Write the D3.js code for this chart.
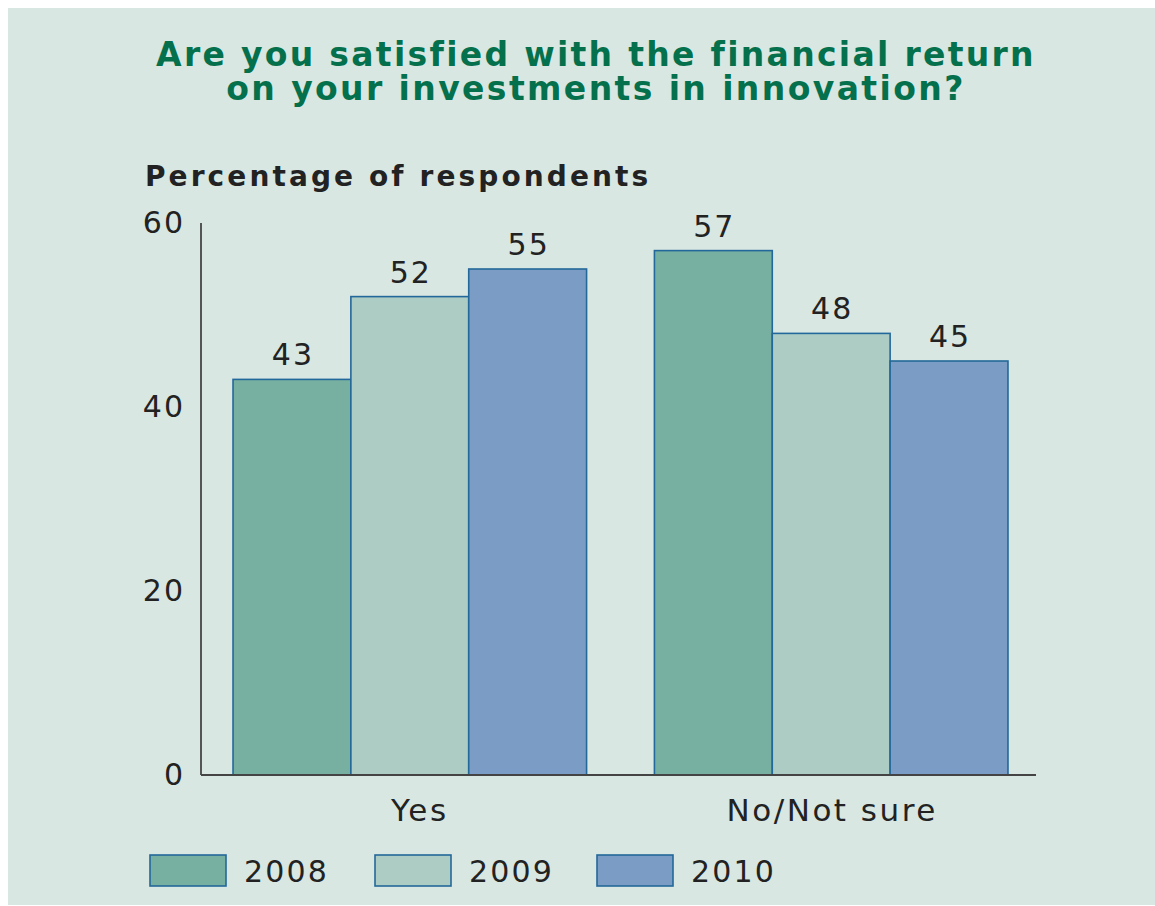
<!DOCTYPE html>
<html>
<head>
<meta charset="utf-8">
<script src="https://cdn.jsdelivr.net/npm/d3@7"></script>
<style>
  body { margin: 0; background: #fff; }
  svg { display: block; }
  text { font-family: "DejaVu Sans", sans-serif; }
</style>
</head>
<body>
<svg id="chart" width="1155" height="906"></svg>
<script>
var categories = ["Yes", "No/Not sure"];
var years = ["2008", "2009", "2010"];
var values2008 = [43, 57];
var values2009 = [52, 48];
var values2010 = [55, 45];
var yTicks = [0, 20, 40, 60];

var YEAR_COLORS = { "2008": "#77b0a0", "2009": "#adcdc4", "2010": "#7b9cc4" };
var series = { "2008": values2008, "2009": values2009, "2010": values2010 };

var svg = d3.select("#chart");

svg.append("rect")
  .attr("x", 8).attr("y", 8)
  .attr("width", 1147).attr("height", 897)
  .attr("fill", "#d8e7e2");

svg.append("text")
  .attr("x", 596).attr("y", 66)
  .attr("text-anchor", "middle")
  .attr("font-size", "33px").attr("font-weight", "bold")
  .attr("letter-spacing", "2.3px")
  .attr("fill", "#05704c")
  .text("Are you satisfied with the financial return");
svg.append("text")
  .attr("x", 596).attr("y", 100)
  .attr("text-anchor", "middle")
  .attr("font-size", "33px").attr("font-weight", "bold")
  .attr("letter-spacing", "2.4px")
  .attr("fill", "#05704c")
  .text("on your investments in innovation?");

svg.append("text")
  .attr("x", 145).attr("y", 186)
  .attr("font-size", "28px").attr("font-weight", "bold")
  .attr("letter-spacing", "3.1px")
  .attr("fill", "#222")
  .text("Percentage of respondents");

var plotLeft = 201, plotRight = 1036, plotTop = 223, plotBottom = 775;

var y = d3.scaleLinear().domain([0, 60]).range([plotBottom, plotTop]);
var x0 = d3.scaleBand().domain(categories).range([plotLeft, 1040]).paddingInner(0.161).paddingOuter(0.076);
var x1 = d3.scaleBand().domain(years).range([0, x0.bandwidth()]);

// y tick labels (no tick marks)
var yAxis = d3.axisLeft(y).tickValues(yTicks).tickSize(0).tickPadding(16);
var gy = svg.append("g").attr("transform", "translate(" + plotLeft + ",0)").call(yAxis);
gy.select(".domain").remove();
gy.selectAll("text").attr("font-size", "30px").attr("fill", "#222")
  .attr("letter-spacing", "2px");

// bars
var groups = svg.append("g").selectAll("g").data(categories).enter().append("g")
  .attr("transform", function(d) { return "translate(" + x0(d) + ",0)"; });

groups.selectAll("rect").data(function(d, i) {
  return years.map(function(yr) { return { year: yr, value: series[yr][i] }; });
}).enter().append("rect")
  .attr("x", function(d) { return x1(d.year); })
  .attr("y", function(d) { return y(d.value); })
  .attr("width", x1.bandwidth())
  .attr("height", function(d) { return plotBottom - y(d.value); })
  .attr("fill", function(d) { return YEAR_COLORS[d.year]; })
  .attr("stroke", "#23689a")
  .attr("stroke-width", 1.6);

groups.selectAll("text.val").data(function(d, i) {
  return years.map(function(yr) { return { year: yr, value: series[yr][i] }; });
}).enter().append("text")
  .attr("class", "val")
  .attr("x", function(d) { return x1(d.year) + x1.bandwidth() / 2 + 1; })
  .attr("y", function(d) { return y(d.value) - 14; })
  .attr("text-anchor", "middle")
  .attr("font-size", "30px").attr("fill", "#222")
  .attr("letter-spacing", "2px")
  .text(function(d) { return d.value; });

// axis lines
svg.append("line")
  .attr("x1", plotLeft).attr("x2", plotLeft).attr("y1", plotTop).attr("y2", plotBottom)
  .attr("stroke", "#555").attr("stroke-width", 2);

var xAxis = d3.axisBottom(x0).tickSize(0).tickPadding(24);
var gx = svg.append("g").attr("transform", "translate(0," + plotBottom + ")").call(xAxis);
gx.select(".domain").attr("stroke", "#444").attr("stroke-width", 2)
  .attr("d", "M" + plotLeft + ",0H" + plotRight);
gx.selectAll("text").attr("font-size", "31px").attr("fill", "#222")
  .attr("letter-spacing", "2.5px")
  .attr("dx", function(d, i) { return i === 0 ? 10 : 1; });

// legend
var legendX = d3.scaleOrdinal().domain(years).range([150, 375, 597]);
var legend = svg.append("g").selectAll("g").data(years).enter().append("g")
  .attr("transform", function(d) { return "translate(" + legendX(d) + ",855)"; });
legend.append("rect")
  .attr("width", 76).attr("height", 31)
  .attr("fill", function(d) { return YEAR_COLORS[d]; })
  .attr("stroke", "#23689a").attr("stroke-width", 1.6);
legend.append("text")
  .attr("x", 94).attr("y", 27)
  .attr("font-size", "30px").attr("fill", "#222")
  .attr("letter-spacing", "2.2px")
  .text(function(d) { return d; });
</script>
</body>
</html>
